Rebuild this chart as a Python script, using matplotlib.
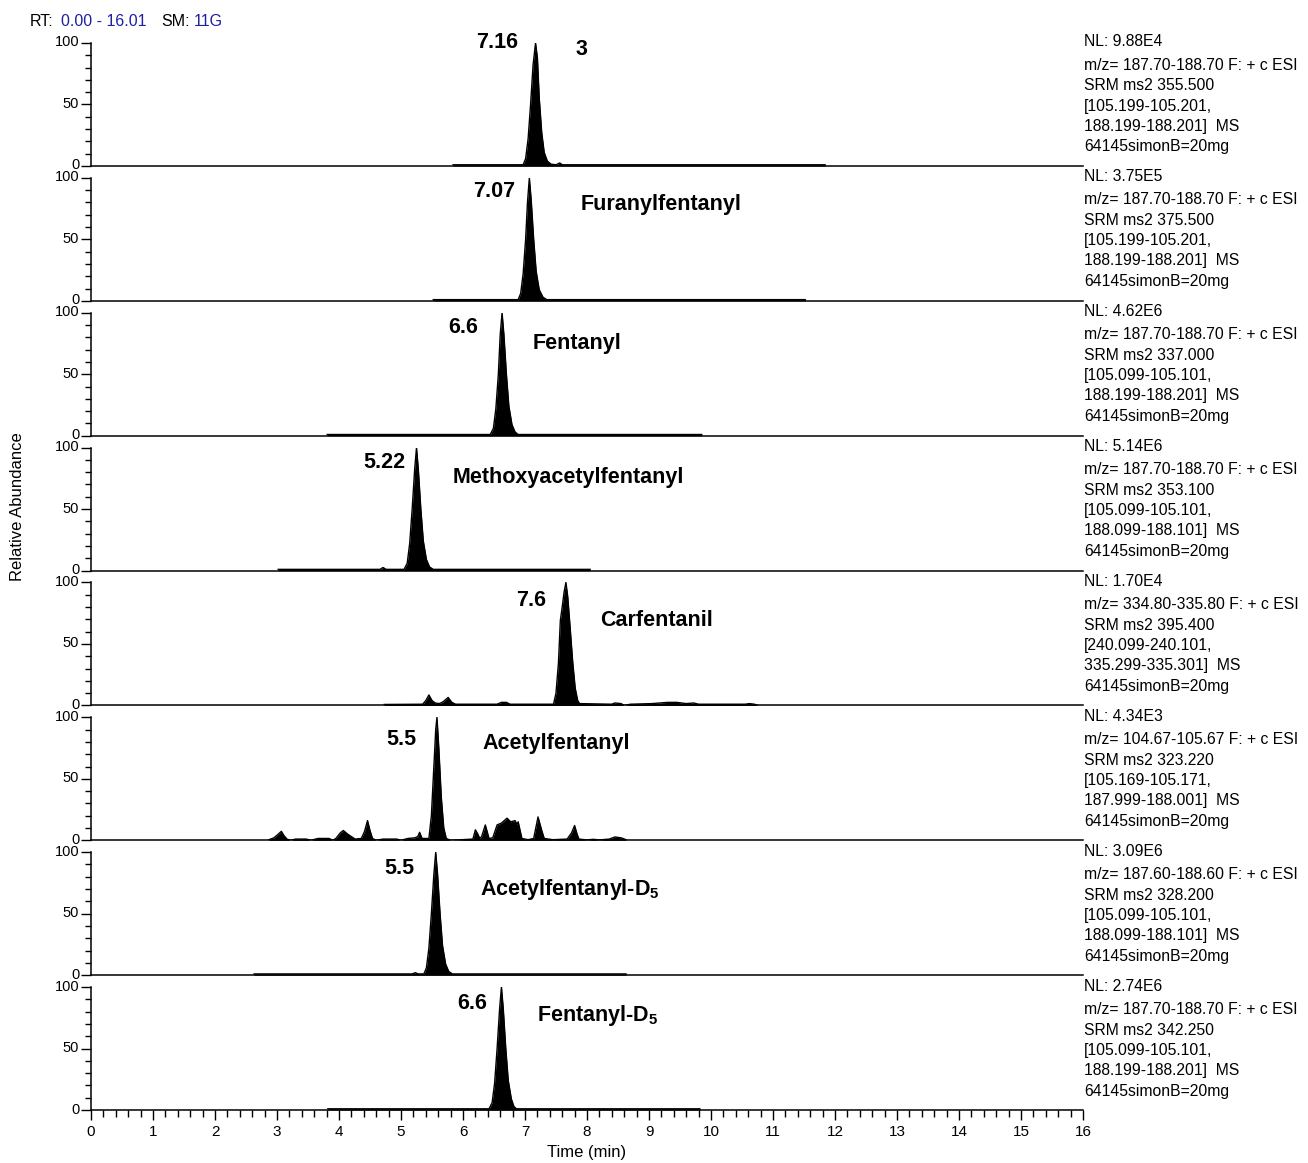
import matplotlib
matplotlib.use('Agg')
import matplotlib.pyplot as plt
import matplotlib.transforms as mtransforms
from matplotlib.ticker import MultipleLocator

plt.rcParams['font.family'] = ['Liberation Sans', 'DejaVu Sans']
plt.rcParams['mathtext.fontset'] = 'custom'
plt.rcParams['mathtext.rm'] = 'Liberation Sans'
plt.rcParams['mathtext.bf'] = 'Liberation Sans:bold'

FIG_W, FIG_H = 1308, 1163
AX_LEFT, AX_RIGHT = 91, 1083
PANEL_TOP0 = 43
PANEL_STEP = 134.86
PANEL_H = 123

BLUE = '#1f1fa3'

# ---- chromatogram traces (time in min, relative abundance in %) ----
t_3 = [5.84, 6.97, 7.01, 7.05, 7.09, 7.13, 7.17, 7.20, 7.23, 7.27, 7.31, 7.36,
       7.42, 7.50, 7.56, 7.60, 11.84]
y_3 = [1, 1, 6, 22, 50, 82, 100, 88, 55, 27, 11, 4,
       1.5, 1, 2.5, 1, 1]

t_furanyl = [5.52, 6.89, 6.93, 6.97, 7.01, 7.04, 7.07, 7.10, 7.14, 7.18, 7.23,
             7.29, 7.35, 11.52]
y_furanyl = [1, 1, 6, 22, 50, 80, 100, 82, 50, 24, 9,
             3, 1, 1]

t_fentanyl = [3.81, 6.44, 6.49, 6.53, 6.57, 6.60, 6.63, 6.66, 6.70, 6.74, 6.79,
              6.84, 6.89, 9.85]
y_fentanyl = [1, 1, 6, 22, 50, 82, 100, 82, 50, 24, 9,
              3, 1, 1]

t_methoxy = [3.02, 4.66, 4.71, 4.76, 5.05, 5.10, 5.14, 5.18, 5.22, 5.25, 5.28,
             5.32, 5.36, 5.41, 5.46, 5.52, 8.05]
y_methoxy = [1, 1, 2.5, 1, 1, 6, 22, 50, 82, 100, 82,
             50, 24, 9, 3, 1, 1]

t_carfentanil = [4.73, 5.35, 5.40, 5.45, 5.50, 5.55, 5.62, 5.68, 5.76, 5.82,
                 5.88, 6.55, 6.62, 6.70, 6.76, 7.46, 7.50, 7.54, 7.57, 7.60,
                 7.63, 7.66, 7.69, 7.73, 7.77, 7.81, 7.85, 7.88, 8.40, 8.45,
                 8.55, 8.60, 8.70, 9.05, 9.30, 9.45, 9.60, 9.72, 9.80, 10.55,
                 10.62, 10.70, 10.76]
y_carfentanil = [0.8, 1, 4, 8.5, 4, 2, 1.5, 3, 6.5, 2.5,
                 1, 1, 2.5, 2.5, 1, 1, 10, 35, 69, 80,
                 92, 100, 88, 62, 35, 14, 4, 1.5, 1, 2,
                 1.5, 0, 1, 1.5, 2.5, 2.5, 1.5, 2, 1, 1,
                 1.5, 1, 0]

t_acetyl = [2.87, 2.95, 3.02, 3.07, 3.11, 3.16, 3.22, 3.30, 3.47, 3.55, 3.66,
            3.84, 3.90, 3.95, 4.02, 4.07, 4.14, 4.20, 4.26, 4.36, 4.41, 4.46,
            4.50, 4.54, 4.60, 4.71, 4.80, 4.83, 4.93, 5.00, 5.11, 5.22, 5.27,
            5.30, 5.34, 5.45, 5.49, 5.53, 5.56, 5.58, 5.61, 5.65, 5.69, 5.73,
            5.80, 6.16, 6.20, 6.24, 6.27, 6.30, 6.36, 6.42, 6.48, 6.55, 6.62,
            6.71, 6.77, 6.84, 6.87, 6.89, 6.95, 7.05, 7.14, 7.21, 7.27, 7.31,
            7.45, 7.68, 7.75, 7.80, 7.84, 7.87, 8.00, 8.10, 8.20, 8.36, 8.45,
            8.55, 8.63]
y_acetyl = [0.5, 2, 5, 7.3, 4, 1, 0, 1, 1, 0, 1.5,
            1.5, 0, 1.5, 6, 8, 5, 3, 1, 1.5, 7, 16,
            8, 1.5, 0, 1, 1, 1, 1, 0, 1.5, 2, 3,
            6.5, 1.5, 1.5, 20, 60, 90, 100, 75, 35, 10, 1.5,
            0, 1, 8.5, 5, 1.5, 3, 12.5, 1.5, 2, 12.5, 14,
            18, 15, 16, 13, 15, 1.5, 0.5, 1.5, 19, 8, 1.5,
            0.5, 1, 6, 12, 5, 1, 0.3, 0.8, 0.3, 1, 2.7,
            2, 0.5]

t_acetyl_d5 = [2.63, 5.18, 5.23, 5.28, 5.37, 5.41, 5.45, 5.49, 5.53, 5.56,
               5.59, 5.63, 5.67, 5.72, 5.77, 5.83, 8.63]
y_acetyl_d5 = [1, 1, 2, 1, 1, 6, 22, 50, 82, 100,
               82, 50, 24, 9, 3, 1, 1]

t_fentanyl_d5 = [3.82, 6.42, 6.47, 6.51, 6.55, 6.59, 6.62, 6.65, 6.69, 6.73,
                 6.78, 6.82, 6.86, 9.82]
y_fentanyl_d5 = [1, 1, 6, 22, 50, 82, 100, 82, 50, 24,
                 9, 3, 1, 1]

traces = [
    (t_3, y_3), (t_furanyl, y_furanyl), (t_fentanyl, y_fentanyl),
    (t_methoxy, y_methoxy), (t_carfentanil, y_carfentanil),
    (t_acetyl, y_acetyl), (t_acetyl_d5, y_acetyl_d5),
    (t_fentanyl_d5, y_fentanyl_d5),
]

# ---- annotations ----
rt_labels = ['7.16', '7.07', '6.6', '5.22', '7.6', '5.5', '5.5', '6.6']
rt_label_pos = [(6.55, 100), (6.50, 89), (6.0, 88), (4.73, 88),
                (7.10, 85), (5.0, 82), (4.98, 87), (6.15, 87)]
names = ['3', 'Furanylfentanyl', 'Fentanyl', 'Methoxyacetylfentanyl',
         'Carfentanil', 'Acetylfentanyl', r'Acetylfentanyl-D$_\mathbf{5}$',
         r'Fentanyl-D$_\mathbf{5}$']
name_pos = [(7.82, 95), (7.89, 78), (7.13, 75), (5.84, 76),
            (8.21, 69), (6.32, 79), (6.27, 70), (7.19, 77)]

nl_values = ['9.88E4', '3.75E5', '4.62E6', '5.14E6', '1.70E4', '4.34E3',
             '3.09E6', '2.74E6']
mz_ranges = ['187.70-188.70', '187.70-188.70', '187.70-188.70',
             '187.70-188.70', '334.80-335.80', '104.67-105.67',
             '187.60-188.60', '187.70-188.70']
srm_values = ['355.500', '375.500', '337.000', '353.100', '395.400',
              '323.220', '328.200', '342.250']
ion_low = ['105.199-105.201', '105.199-105.201', '105.099-105.101',
           '105.099-105.101', '240.099-240.101', '105.169-105.171',
           '105.099-105.101', '105.099-105.101']
ion_high = ['188.199-188.201', '188.199-188.201', '188.199-188.201',
            '188.099-188.101', '335.299-335.301', '187.999-188.001',
            '188.099-188.101', '188.199-188.201']
sample_name = '64145simonB=20mg'

TICK_FS = 10.5
INFO_FS = 11.3


def fx(px):
    return px / FIG_W


def fy(py):
    return 1 - py / FIG_H


def nudge_ytick_labels(fig, ax):
    # keep the "0" of one panel clear of the "100" of the next one
    for tick in ax.yaxis.get_major_ticks():
        loc = tick.get_loc()
        if loc == 0:
            dy = 2 / 100
        elif loc == 100:
            dy = -1 / 100
        else:
            continue
        off = mtransforms.ScaledTranslation(0, dy, fig.dpi_scale_trans)
        tick.label1.set_transform(tick.label1.get_transform() + off)


def main():
    fig = plt.figure(figsize=(FIG_W / 100, FIG_H / 100), dpi=100)
    n = len(traces)
    for i in range(n):
        top = PANEL_TOP0 + i * PANEL_STEP
        bottom = top + PANEL_H
        ax = fig.add_axes([fx(AX_LEFT), fy(bottom), fx(AX_RIGHT - AX_LEFT),
                           PANEL_H / FIG_H])
        t, y = traces[i]
        ax.fill_between(t, y, 0, color='black', lw=0)
        ax.plot(t, y, color='black', lw=1.0)
        ax.set_xlim(0, 16)
        ax.set_ylim(0, 100)
        for side in ['top', 'right']:
            ax.spines[side].set_visible(False)
        for side in ['left', 'bottom']:
            ax.spines[side].set_linewidth(1.1)
        ax.set_yticks([0, 50, 100])
        ax.yaxis.set_minor_locator(MultipleLocator(10))
        ax.tick_params(axis='y', which='major', direction='out', length=7,
                       width=1, labelsize=TICK_FS, pad=1.5)
        ax.tick_params(axis='y', which='minor', direction='out', length=4,
                       width=1)
        ax.xaxis.set_major_locator(MultipleLocator(1))
        ax.xaxis.set_minor_locator(MultipleLocator(0.2))
        if i < n - 1:
            ax.tick_params(axis='x', which='both', bottom=False,
                           labelbottom=False)
        else:
            ax.tick_params(axis='x', which='major', direction='out', length=7,
                           width=1, labelsize=11, pad=4)
            ax.tick_params(axis='x', which='minor', direction='out', length=5,
                           width=1)
            ax.set_xlabel('Time (min)', fontsize=12, labelpad=4)
        ax.patch.set_alpha(0)
        nudge_ytick_labels(fig, ax)

        rx, ry = rt_label_pos[i]
        ax.text(rx, ry, rt_labels[i], fontsize=15.5, fontweight='bold',
                ha='center', va='center')
        nx, ny = name_pos[i]
        ax.text(nx, ny, names[i], fontsize=15.5, fontweight='bold',
                ha='left', va='center')

        lines = [
            'NL: ' + nl_values[i],
            'm/z= ' + mz_ranges[i] + ' F: + c ESI',
            'SRM ms2 ' + srm_values[i],
            '[' + ion_low[i] + ',',
            ion_high[i] + ']  MS',
            sample_name,
        ]
        offsets = [-1, 22, 43, 63, 83, 104]
        for txt, off in zip(lines, offsets):
            fig.text(fx(1084), fy(top + off), txt, fontsize=INFO_FS,
                     ha='left', va='center')

    fig.text(fx(18), fy(507), 'Relative Abundance', fontsize=12,
             rotation=90, ha='center', va='center')

    # header line
    header = [('RT:', 'black', 30), ('0.00 - 16.01', BLUE, 61),
              ('SM:', 'black', 161), ('11G', BLUE, 194)]
    for txt, col, px in header:
        fig.text(fx(px), fy(21), txt, fontsize=11.5, color=col,
                 ha='left', va='center')

    fig.savefig('out.png', dpi=100)


if __name__ == '__main__':
    main()
